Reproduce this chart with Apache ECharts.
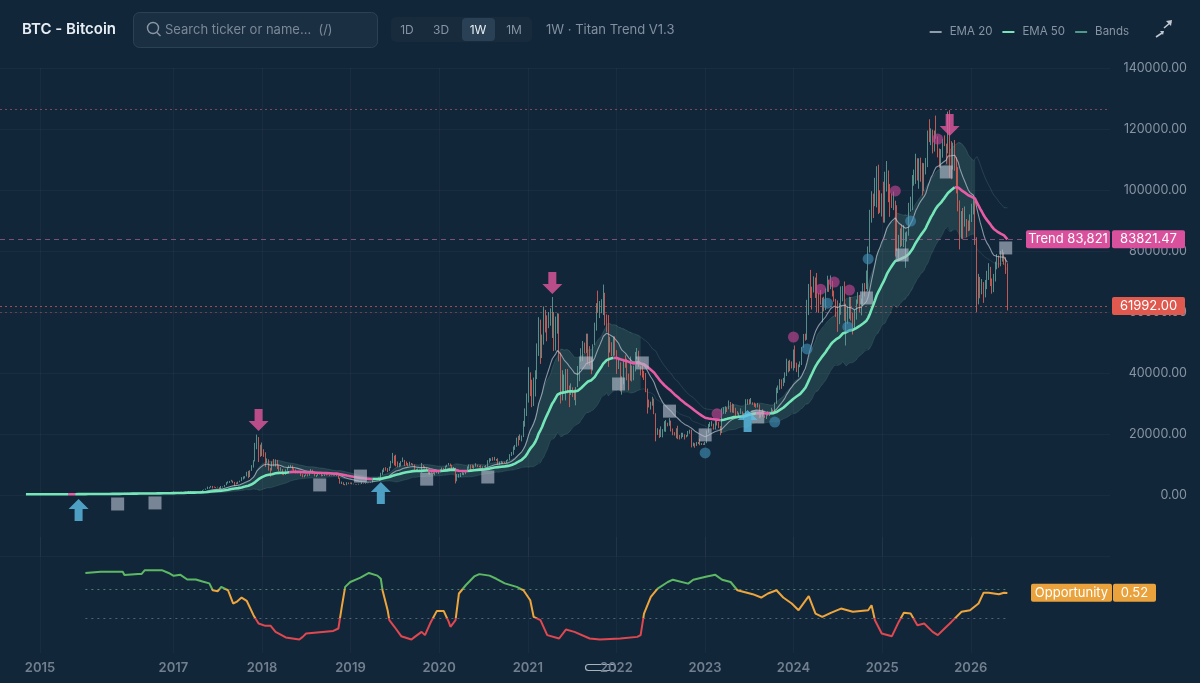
<!DOCTYPE html>
<html><head><meta charset="utf-8">
<script src="https://cdn.jsdelivr.net/npm/echarts@6/dist/echarts.min.js"></script>
<style>html,body{margin:0;padding:0;background:#12263a;}#c{width:1200px;height:683px;}</style>
</head><body><div id="c"></div><script>
// Weekly bars [close, high, low]; first week starts Monday 2015-05-04, open = previous close
const firstOpen = 236;
const w2015 = [[242,247,233],[237,245,233],[240,242,232],[230,241,226],[226,233,220],[234,236,222],[245,253,232],[257,260,240],[270,275,252],[292,313,265],[276,300,265],[290,296,270],[281,297,277],[265,286,258],[232,269,161],[228,236,198],[230,235,220],[240,243,225],[230,242,225],[231,233,226],[235,239,230],[239,242,235],[250,255,238],[270,272,249],[290,297,268],[375,420,289],[335,495,310],[325,345,300],[360,370,318],[375,380,352],[390,400,355],[460,470,388],[440,465,410],[420,455,415],[430,438,415]];
const w2016 = [[448,462,425],[380,455,360],[402,410,365],[376,398,362],[373,380,365],[405,410,370],[438,445,405],[433,440,415],[412,438,405],[415,420,405],[412,420,405],[418,420,410],[420,424,412],[424,428,418],[458,462,422],[462,468,448],[458,468,443],[460,465,443],[444,460,436],[454,457,436],[530,535,450],[575,585,525],[685,700,570],[665,780,620],[665,695,550],[660,705,640],[650,665,610],[665,680,650],[655,675,650],[605,660,600],[590,615,480],[570,595,565],[580,585,568],[575,585,570],[608,615,568],[610,625,605],[608,612,605],[602,608,590],[610,615,598],[617,620,608],[640,645,613],[657,660,630],[715,740,652],[705,740,680],[740,745,700],[730,750,695],[745,752,725],[770,778,735],[778,784,755],[790,795,768],[900,920,785],[1000,1005,890]];
const w2017 = [[900,1150,780],[820,910,760],[920,935,810],[990,995,880],[1010,1040,960],[1000,1090,940],[1050,1060,990],[1190,1200,1040],[1270,1290,1180],[1240,1330,970],[960,1260,930],[1040,1060,890],[1100,1120,1000],[1180,1200,1080],[1200,1210,1150],[1250,1260,1190],[1350,1360,1240],[1560,1640,1340],[1730,1800,1550],[2050,2100,1710],[2200,2760,1950],[2520,2580,2100],[2950,2980,2450],[2600,2980,2150],[2550,2770,2400],[2500,2580,2300],[2500,2700,2480],[1930,2550,1840],[2750,2950,1950],[2760,2800,2450],[3250,3300,2650],[4070,4200,3200],[4090,4480,3800],[4580,4600,3980],[4600,4960,4400],[4300,4700,3900],[3700,4250,2980],[3600,4100,3500],[4350,4400,3800],[4600,4700,4200],[5650,5860,4550],[6000,6100,5100],[6150,6200,5400],[7400,7600,6100],[5950,7900,5500],[8000,8100,5900],[9700,9800,7900],[11000,11400,9000],[15000,17100,11000],[19000,19800,15000],[14000,19000,10800],[13800,16500,12500]];
const w2018 = [[14000,17200,12800],[13600,15000,12500],[11500,14000,9200],[11500,12000,10500],[8200,11700,8000],[8100,8900,6000],[10400,11000,8000],[9600,11800,9400],[11400,11700,9300],[9600,11500,8500],[8200,9900,7800],[8500,9100,7900],[7000,8500,6600],[6900,7500,6500],[8000,8400,6600],[8900,9000,8000],[9300,9700,8800],[9700,9900,9100],[8700,9600,8300],[8200,8800,7900],[7400,8400,7100],[7600,7800,7100],[7500,7800,7300],[6500,7500,6200],[6100,6850,5800],[6400,6550,5800],[6700,6800,6300],[6400,6800,6100],[7400,7600,6300],[8200,8500,7400],[7000,8300,6900],[6300,7200,6100],[6400,6600,5900],[6700,7000,6300],[7200,7300,6700],[6200,7400,6100],[6500,6600,6200],[6700,6800,6200],[6600,6800,6400],[6550,6700,6500],[6400,6600,6200],[6450,6650,6400],[6350,6500,6300],[6400,6500,6300],[6300,6550,6200],[5500,6400,5300],[4000,5600,3700],[4100,4400,3600],[3500,4200,3300],[3250,3600,3200],[3950,4200,3200],[3750,4100,3550],[4000,4050,3700]];
const w2019 = [[3550,4100,3500],[3600,3700,3500],[3550,3620,3450],[3450,3550,3370],[3620,3700,3400],[3620,3680,3550],[3870,4200,3600],[3800,3900,3700],[3900,3950,3700],[4000,4030,3850],[3980,4050,3900],[4100,4150,3950],[5100,5300,4100],[5100,5450,4950],[5350,5450,5050],[5300,5600,5100],[5800,5850,5250],[7100,7300,5700],[8100,8300,6600],[8700,8900,7500],[8600,9100,8000],[8000,8800,7500],[8800,9300,7900],[10700,11200,8800],[11800,13800,10400],[11300,12900,9700],[10300,13200,9400],[9500,11000,9100],[9500,10500,9100],[10800,11100,9400],[11500,12300,10800],[10300,11500,9500],[10100,11000,9800],[9600,10500,9400],[10500,10900,9600],[10300,10500,9900],[10000,10300,9700],[8000,10000,7800],[8300,8500,7700],[8300,8700,7900],[8200,8400,7900],[9500,10500,7300],[9200,9800,8900],[8800,9400,8700],[8500,8900,8000],[7300,8500,6800],[7400,7800,6600],[7500,7800,7300],[7100,7500,6900],[7150,7500,6450],[7400,7600,7100],[7400,7600,6900]];
const w2020 = [[8100,8400,7700],[8900,9000,8000],[8300,8800,8200],[9400,9600,8300],[9900,9950,9150],[10300,10500,9700],[9700,10300,9400],[8700,9900,8400],[8900,9200,8300],[5400,8000,3800],[5800,6900,4500],[5900,6900,5700],[6800,7200,5900],[6900,7500,6600],[7100,7300,6500],[7500,7800,6800],[8800,9400,7600],[9500,10000,8600],[9400,9900,8100],[9200,9900,8800],[9500,9700,8600],[9700,10400,9300],[9400,9900,9200],[9300,9600,9100],[9100,9800,8900],[9300,9400,8900],[9200,9450,9150],[9700,9800,9050],[11000,11400,9200],[11600,12100,10600],[11800,12000,11100],[11700,12400,11200],[11700,12500,11300],[11700,11800,11200],[10300,12050,9900],[10900,10950,9900],[10900,11200,10200],[10800,10900,10200],[10600,10900,10400],[11300,11500,10500],[11500,11700,11200],[13000,13400,11400],[13800,14100,12800],[15400,15900,13200],[16000,16400,14800],[18400,18800,15800],[18200,19400,16200],[19100,19900,18000],[19200,19500,17600],[23800,24300,19000],[26400,28400,22400],[32200,33300,25900]];
const w2021 = [[38200,41900,30300],[36000,40200,32400],[32100,37800,28800],[34300,38500,29200],[39300,40900,32300],[48600,49700,38000],[57500,58300,45600],[46200,57500,43000],[51000,52600,44900],[59000,61800,49300],[57400,60700,53300],[55900,58900,50400],[57100,60000,54700],[59800,61200,55500],[60000,64900,51500],[50100,57000,47200],[56600,58500,47400],[58200,59600,52900],[46700,59500,43800],[34700,45800,30000],[35700,40900,31000],[35800,39500,33400],[39000,41300,31000],[35600,41300,33300],[34700,35900,28800],[35300,36600,32800],[34000,35100,32100],[31800,34600,31100],[35400,35400,29400],[39800,42300,36400],[44600,45300,37300],[47000,48100,43700],[49300,50500,43900],[48900,50000,46400],[51700,52900,46600],[48300,52900,42800],[43000,48800,42500],[42200,45000,39600],[49200,49400,40800],[54700,56500,49100],[61500,62900,53900],[61000,67000,59700],[61300,63600,58000],[63200,64200,59600],[65500,69000,59000],[58700,66300,55600],[57300,59200,53500],[49400,59000,42000],[50100,51900,46700],[46700,49500,45500],[50800,51900,45600],[47300,52000,45700]];
const w2022 = [[41800,47500,39700],[43100,44400,41300],[36300,43500,34000],[37900,38900,32900],[42400,44500,36300],[42200,45800,41700],[38400,44700,37600],[37700,39800,34300],[38800,45400,37500],[37800,42500,37200],[41300,42400,37600],[44500,46900,40500],[46400,48200,44500],[42200,47300,42000],[39700,41500,39200],[39500,42900,38500],[38500,40700,37700],[34100,40000,33700],[31300,34900,26700],[29400,30700,28700],[29400,30600,28000],[29900,32200,29300],[26600,31600,26500],[20500,26800,17600],[21000,21900,19700],[19300,21500,18700],[20800,22500,19000],[20800,21600,18900],[22600,24200,21000],[23300,24600,20700],[23200,23700,22500],[24400,25200,22700],[21500,24400,20800],[20000,21800,19600],[19800,20600,19500],[21800,21900,18600],[19400,22700,18300],[18800,19700,18200],[19300,20400,18500],[19400,20400,19000],[19200,19900,18200],[19600,19700,18900],[20600,21000,19200],[21300,21400,20100],[16300,21400,15600],[16700,17200,16000],[16500,17000,15500],[17100,17400,16100],[17100,17400,16700],[16800,18400,16300],[16800,17000,16400],[16500,16900,16400]];
const w2023 = [[17100,17400,16400],[20900,21200,17000],[22700,23300,20400],[23000,23900,22300],[23300,24200,22500],[21800,23400,21400],[24600,25200,21500],[23200,25200,22800],[22400,23900,21900],[20600,22600,19600],[26900,28400,20300],[27500,28800,26600],[28400,29100,26600],[28300,28800,27200],[30300,31000,28100],[27600,30500,27100],[29200,30000,27000],[28000,29800,26900],[26800,28600,25800],[26700,27500,26400],[26800,27000,25900],[27100,28400,26600],[25800,27400,25400],[26300,26800,24800],[30500,31400,26200],[30600,31400,29600],[30300,31400,29700],[30300,31800,29900],[30100,30400,29600],[29200,30300,28900],[29000,30000,28600],[29400,30200,28700],[26100,29700,25200],[26000,26800,25400],[25900,28100,25700],[25800,26100,25300],[26500,27000,24900],[26500,27400,26000],[27000,27100,25900],[27900,28600,27200],[26900,28000,26500],[29900,30300,26900],[34500,35200,29900],[35000,35900,33400],[37100,38000,34500],[36600,37900,34800],[37800,38400,35700],[39500,40200,36800],[43800,44700,39000],[41400,44000,40200],[43700,44300,40600],[42100,43800,41500]];
const w2024 = [[43900,47700,40800],[42800,49000,41600],[41700,43400,40300],[42000,42800,38600],[43000,43800,41900],[48300,48500,42600],[52100,52800,48300],[51700,52900,50600],[63100,64000,50900],[68400,69200,59000],[68300,73800,64600],[67200,68200,60800],[71300,71700,66400],[69400,71300,64600],[65700,72800,60000],[64900,66300,59700],[63100,67200,62400],[64000,64700,56600],[61500,65000,60200],[67000,67700,60600],[69000,71900,66600],[67500,70600,66600],[69700,72000,67600],[66200,70200,65100],[64300,67000,63400],[60900,62500,58400],[58200,63800,53500],[60800,62900,56000],[68200,68400,59100],[68200,68500,63500],[58100,70000,57100],[58700,62700,49000],[58900,61800,56100],[64200,65000,57800],[57300,64900,57200],[54800,59800,52600],[60000,60700,54600],[63300,64100,57500],[65600,66500,62700],[62100,65000,59800],[62800,64400,58900],[69000,69400,62000],[67900,69500,65100],[68700,73600,67500],[80500,81500,66800],[90600,93500,79500],[98000,99600,89300],[97300,98800,90800],[101200,104000,94700],[104500,107800,94300],[95200,108300,92100],[93700,99900,92500],[98300,98900,91300]];
const w2025 = [[94500,102700,89300],[101300,106000,89300],[104700,109500,99500],[97700,106400,96000],[96500,102000,91200],[96100,98800,94100],[96300,99500,93400],[94300,96500,78200],[80700,95000,80000],[82600,85300,76600],[86100,87400,81200],[82400,88700,81600],[83700,88500,81300],[83700,86100,74500],[85100,86400,83100],[94000,95800,85000],[94300,97800,92900],[104200,104900,93400],[106500,106700,101400],[109000,111900,102000],[104600,110400,103100],[105700,110400,100400],[105600,110600,102700],[100900,108900,98200],[108400,108800,99600],[109200,110500,105100],[119100,119500,107500],[117300,123200,115700],[119400,120200,114700],[114200,119800,112000],[119300,119500,112600],[117500,124400,116800],[113500,117600,110700],[108300,113600,107300],[111100,113400,107300],[115300,116700,110600],[115200,117900,114400],[112200,113400,108600],[123500,125700,112000],[115000,126200,104000],[108600,116000,103500],[114500,115500,106700],[110000,116400,106300],[104700,110800,98900],[94500,107500,93000],[86800,96600,80500],[90400,93100,84000],[90000,94100,83800],[90300,94600,88000],[88000,90500,84500],[87500,90000,86500],[91000,92000,86700]];
const w2026 = [[93000,95500,89500],[95500,97800,92000],[84000,96500,82000],[66000,84500,60000],[70000,72500,62500],[67500,71500,64500],[69000,70800,65800],[65500,69800,63000],[68500,70500,64800],[71500,73500,67500],[74000,76000,70500],[70000,74800,68500],[67500,71000,66000],[71000,72500,66500],[75000,76500,70000],[77500,79000,74000],[76000,78500,74500],[78500,80000,75000],[79000,80500,76500],[77000,79500,75500],[75500,78000,72500],[61992,76000,60500]];

const trendDownWeeks = [[25,29],[155,204],[237,244],[253,260],[346,409],[430,438],[547,578]];
// Week ranges where the band has no fill (outline only)
const bandHollowWeeks = [[363,408],[560,578]];

// Signals: [week index, price level]
const sellArrows = [[137,21000],[310,65900],[544,117700]];
const buyArrows = [[31,-1300],[209,4300],[425,27900]];
const exitSquares = [[54,-2950],[76,-2600],[173,3300],[197,6200],[236,5200],[272,5900],[330,43300],[349,36400],[363,43300],[379,27500],[400,19700],[431,25600],[495,64600],[516,78700],[542,105900],[577,81000]];
const pinkDots = [[407,26600],[452,51800],[468,67500],[476,69800],[485,67200],[512,99700],[537,116700]];
const blueDots = [[400,13800],[441,23900],[460,47900],[472,62900],[484,55100],[496,77400],[521,89800]];

// Opportunity oscillator: [week index] and value
const oscWeek = [35,44,57,58,66,68,70,80,84,87,91,95,100,104,108,110,113,115,119,122,124,127,130,134,137,141,144,147,153,161,163,165,181,184,186,188,191,197,202,207,209,210,213,214,217,221,227,229,233,235,238,242,246,249,250,253,255,259,264,267,273,277,282,289,293,297,299,303,307,314,318,323,332,338,350,360,362,364,368,372,378,381,390,393,401,406,410,415,419,428,433,437,442,446,451,455,461,465,469,474,480,487,496,498,500,504,510,514,517,521,525,529,534,537,541,545,551,556,561,564,567,573,576,578];
const oscValue = [0.69,0.70,0.70,0.673,0.68,0.68,0.714,0.714,0.69,0.665,0.674,0.634,0.634,0.616,0.60,0.541,0.533,0.57,0.541,0.427,0.44,0.478,0.45,0.326,0.254,0.234,0.236,0.182,0.134,0.116,0.139,0.168,0.19,0.211,0.397,0.57,0.612,0.65,0.69,0.667,0.64,0.541,0.369,0.283,0.226,0.145,0.116,0.139,0.182,0.154,0.254,0.363,0.363,0.268,0.226,0.283,0.513,0.584,0.66,0.68,0.667,0.64,0.60,0.57,0.541,0.455,0.311,0.283,0.154,0.125,0.202,0.182,0.125,0.116,0.125,0.139,0.154,0.34,0.483,0.555,0.612,0.632,0.598,0.632,0.66,0.674,0.632,0.612,0.541,0.507,0.478,0.513,0.541,0.478,0.427,0.369,0.49,0.34,0.311,0.346,0.383,0.355,0.369,0.412,0.283,0.168,0.145,0.268,0.346,0.34,0.24,0.254,0.182,0.154,0.211,0.268,0.355,0.369,0.427,0.52,0.52,0.507,0.52,0.518];
const oscThresholds = [0.55, 0.30];

// Reference levels and labels
const athLevel = 126600;
const trendLevel = 83821.47;
const lastClose = 61992.00;
const recentLow = 60000;
const opportunityNow = 0.52;
const yearTicks = ['2015-07-01','2017-01-01','2018-01-01','2019-01-01','2020-01-01','2021-01-01','2022-01-01','2023-01-01','2024-01-01','2025-01-01','2026-01-01'];
const axisRange = ['2015-01-17','2027-07-29'];
const priceTicks = {min:-20000, max:140000, interval:20000};

// ---------- build ----------
const START = Date.UTC(2015,4,4), WEEK = 7*86400000;
const weekDate = k => START + k*WEEK;
const weeks = [].concat(w2015,w2016,w2017,w2018,w2019,w2020,w2021,w2022,w2023,w2024,w2025,w2026);
const N = weeks.length;
const ohlc = weeks.map((w,k)=>{
  const o = k===0 ? firstOpen : weeks[k-1][0];
  const c = w[0];
  return {o, c, h: Math.max(w[1],o,c), l: Math.min(w[2],o,c)};
});
const closes = ohlc.map(b=>b.c);
function ema(vals, n){ const a=2/(n+1); let e=vals[0]; return vals.map((v,i)=> (e = i===0 ? v : v*a + e*(1-a))); }
const ema20 = ema(closes,20), ema50 = ema(closes,50);
const tr = ohlc.map((b,k)=> k===0 ? b.h-b.l : Math.max(b.h-b.l, Math.abs(b.h-ohlc[k-1].c), Math.abs(b.l-ohlc[k-1].c)));
const atr = ema(tr,20);
const BAND = 1.45;
const upper = ema50.map((e,k)=>e+BAND*atr[k]);
const lower = ema50.map((e,k)=>e-BAND*atr[k]);
const inRanges = (k,rs)=>rs.some(r=>k>=r[0]&&k<=r[1]);
const isDown = k => inRanges(k,trendDownWeeks);

// contiguous filled band segments (complement of the hollow ranges)
const bandSegments = [];
{ let s = null; for(let k=0;k<N;k++){ const f=!inRanges(k,bandHollowWeeks); if(f && s===null) s=k; if((!f || k===N-1) && s!==null){ bandSegments.push([s, f?k:k-1]); s=null; } } }

const candleData = ohlc.map((b,k)=>[weekDate(k), b.o, b.c, b.l, b.h]);
const ema20Data = ema20.map((v,k)=>[weekDate(k), v]);
const emaUp = ema50.map((v,k)=>[weekDate(k), (!isDown(k) || (k>0 && !isDown(k-1)) || (k<N-1 && !isDown(k+1))) ? v : null]);
const emaDn = ema50.map((v,k)=>[weekDate(k), isDown(k) ? v : null]);
const upperData = upper.map((v,k)=>[weekDate(k), v]);
const lowerData = lower.map((v,k)=>[weekDate(k), v]);
const pts = arr => arr.map(p=>[weekDate(p[0]), p[1]]);
const oscData = oscWeek.map((k,i)=>[weekDate(k), oscValue[i]]);
const tickVals = yearTicks.map(d=>new Date(d).getTime());
const xMin = new Date(axisRange[0]).getTime(), xMax = new Date(axisRange[1]).getTime();

const FONT = 'Inter, "Noto Sans", sans-serif';
const BG = '#12263a';
const grid = 'rgba(255,255,255,0.035)';

const xBase = {
  type:'value', min:xMin, max:xMax, axisLine:{show:false},
  axisTick:{show:false, customValues:tickVals},
  splitLine:{show:true, lineStyle:{color:grid}}
};
const downArrow = 'path://M3,0 L7,0 L7,6 L10,6 L5,11 L0,6 L3,6 Z';
const upArrow = 'path://M5,0 L10,5 L7,5 L7,11 L3,11 L3,5 L0,5 Z';

function renderBand(params, api){
  const s = api.value(2), e = api.value(3);
  const top = [], bot = [];
  for(let k=s;k<=e;k++){ top.push(api.coord([weekDate(k), upper[k]])); bot.push(api.coord([weekDate(k), lower[k]])); }
  return {type:'polygon', shape:{points: top.concat(bot.reverse())}, style:{fill:'rgba(115,190,170,0.16)'}};
}

const series = [
  {name:'bandFill', type:'custom', renderItem:renderBand, data:bandSegments.map(s=>[weekDate(s[0]), lower[s[0]], s[0], s[1]]), encode:{x:0, y:1}, silent:true, z:1},
  {name:'Bands', type:'line', data:upperData, symbol:'none', lineStyle:{color:'rgba(120,190,170,0.18)', width:1}, silent:true, z:2},
  {name:'bandLower', type:'line', data:lowerData, symbol:'none', lineStyle:{color:'rgba(120,190,170,0.14)', width:1}, silent:true, z:2},
  {name:'BTC', type:'candlestick', data:candleData, barMaxWidth:2,
    itemStyle:{color:'rgba(100,160,152,0.85)', color0:'rgba(212,94,88,0.9)', borderColor:'rgba(100,160,152,0.85)', borderColor0:'rgba(212,94,88,0.9)', borderWidth:1},
    z:3,
    markLine:{symbol:'none', silent:true, animation:false, label:{show:false}, data:[
      {yAxis:athLevel, lineStyle:{color:'rgba(214,96,120,0.55)', type:[2,3], width:1}},
      {yAxis:trendLevel, lineStyle:{color:'rgba(170,95,150,0.7)', type:[5,4], width:1}},
      {yAxis:lastClose, lineStyle:{color:'rgba(224,96,88,0.7)', type:[2,3], width:1}},
      {yAxis:recentLow, lineStyle:{color:'rgba(224,96,110,0.4)', type:[2,3], width:1}}
    ]}},
  {name:'EMA 20', type:'line', data:ema20Data, symbol:'none', lineStyle:{color:'rgba(200,210,220,0.65)', width:1.1}, z:4, silent:true},
  {name:'EMA 50', type:'line', data:emaUp, symbol:'none', lineStyle:{color:'#74e6b8', width:2.6}, z:5, silent:true},
  {name:'EMA 50 down', type:'line', data:emaDn, symbol:'none', lineStyle:{color:'#e85ca6', width:2.6}, z:6, silent:true},
  {name:'exit', type:'scatter', data:pts(exitSquares), symbol:'rect', symbolSize:13, itemStyle:{color:'rgba(178,188,202,0.8)'}, z:7, silent:true},
  {name:'pinkDot', type:'scatter', data:pts(pinkDots), symbol:'circle', symbolSize:11, itemStyle:{color:'rgba(200,70,150,0.78)'}, z:7, silent:true},
  {name:'blueDot', type:'scatter', data:pts(blueDots), symbol:'circle', symbolSize:11, itemStyle:{color:'rgba(66,146,186,0.75)'}, z:7, silent:true},
  {name:'sell', type:'scatter', data:pts(sellArrows), symbol:downArrow, symbolSize:[20,22], symbolOffset:[0,-11], itemStyle:{color:'#e2579d'}, z:8, silent:true},
  {name:'buy', type:'scatter', data:pts(buyArrows), symbol:upArrow, symbolSize:[20,22], symbolOffset:[0,11], itemStyle:{color:'#5cbfe6'}, z:8, silent:true},
  {name:'Opportunity', type:'line', xAxisIndex:1, yAxisIndex:1, data:oscData, symbol:'none', lineStyle:{width:2}, z:5, silent:true,
    markLine:{symbol:'none', silent:true, animation:false, label:{show:false}, data:[
      [{coord:[oscData[0][0], oscThresholds[0]], lineStyle:{color:'rgba(110,190,150,0.6)', type:[2,4], width:1}}, {coord:[oscData[oscData.length-1][0], oscThresholds[0]]}],
      [{coord:[oscData[0][0], oscThresholds[1]], lineStyle:{color:'rgba(150,160,172,0.5)', type:[2,4], width:1}}, {coord:[oscData[oscData.length-1][0], oscThresholds[1]]}]
    ]}}
];
const oscIndex = series.length-1;
series.forEach(s=>{ if(s.xAxisIndex===undefined){ s.xAxisIndex=0; s.yAxisIndex=0; } });

const chart = echarts.init(document.getElementById('c'), null, {renderer:'canvas'});
chart.setOption({
  backgroundColor: BG,
  animation:false,
  textStyle:{fontFamily:FONT},
  grid:[{left:0, right:90, top:68, height:488}, {left:0, right:90, top:537, height:116}],
  xAxis:[
    Object.assign({}, xBase, {gridIndex:0, axisLabel:{show:false, customValues:tickVals}}),
    Object.assign({}, xBase, {gridIndex:1, axisLabel:{show:true, customValues:tickVals, color:'#717f8f', fontSize:13, fontWeight:600, fontFamily:FONT, margin:9, formatter:v=>String(new Date(v).getUTCFullYear())}})
  ],
  yAxis:[
    {type:'value', gridIndex:0, position:'right', min:priceTicks.min, max:priceTicks.max, interval:priceTicks.interval,
      axisLine:{show:false}, axisTick:{show:false}, splitLine:{show:true, lineStyle:{color:grid}},
      axisLabel:{align:'right', margin:77, color:'#8694a3', fontSize:12.5, fontFamily:FONT, formatter:v=> v<0 ? '' : v.toFixed(2)}},
    {type:'value', gridIndex:1, min:0, max:1, show:false}
  ],
  legend:{right:66, top:21, icon:'rect', itemWidth:12, itemHeight:2, itemGap:10, selectedMode:false,
    textStyle:{color:'#8794a3', fontSize:11.5, fontFamily:FONT, padding:[0,0,0,3]},
    data:[{name:'EMA 20', itemStyle:{color:'#8f9cab'}}, {name:'EMA 50', itemStyle:{color:'#79e3b6'}}, {name:'Bands', itemStyle:{color:'#4f9a89'}}]},
  visualMap:[{show:false, type:'piecewise', seriesIndex:oscIndex, dimension:1,
    pieces:[{lt:oscThresholds[1], color:'#e0474f'},{gte:oscThresholds[1], lt:oscThresholds[0], color:'#eea53b'},{gte:oscThresholds[0], color:'#5cb862'}]}],
  series
});

// ---------- header and value tags ----------
const yTrend = chart.convertToPixel({yAxisIndex:0}, trendLevel);
const yLast = chart.convertToPixel({yAxisIndex:0}, lastClose);
const yOpp = chart.convertToPixel({yAxisIndex:1}, opportunityNow);
const gridRight = 1200-90;
function tag(x, y, w, fill, text){
  return [
    {type:'rect', shape:{x:x, y:y-9, width:w, height:18, r:2}, style:{fill}, z:100},
    {type:'text', x:x+w/2, y:y, style:{text, fill:'#ffffff', font:'13px '+FONT, textAlign:'center', textVerticalAlign:'middle'}, z:101}
  ];
}
const g = [
  {type:'text', x:22, y:29, style:{text:'BTC - Bitcoin', fill:'#e8eef4', font:'600 15px '+FONT, textVerticalAlign:'middle'}},
  {type:'rect', shape:{x:133.5, y:12.5, width:244, height:35, r:6}, style:{fill:'#1a2f42', stroke:'#2b4154', lineWidth:1}},
  {type:'circle', shape:{cx:153, cy:28, r:5.5}, style:{fill:'none', stroke:'#8a97a6', lineWidth:1.4}},
  {type:'line', shape:{x1:157, y1:32.5, x2:160.5, y2:36}, style:{stroke:'#8a97a6', lineWidth:1.4}},
  {type:'text', x:165, y:30, style:{text:'Search ticker or name…  (/)', fill:'#7b8898', font:'13px '+FONT, textVerticalAlign:'middle'}},
  {type:'rect', shape:{x:391, y:17, width:141, height:25, r:5}, style:{fill:'#172b3d'}},
  {type:'rect', shape:{x:462, y:18, width:33, height:23, r:4}, style:{fill:'#2a4155'}},
  {type:'text', x:407, y:30, style:{text:'1D', fill:'#8794a3', font:'12px '+FONT, textAlign:'center', textVerticalAlign:'middle'}},
  {type:'text', x:441, y:30, style:{text:'3D', fill:'#8794a3', font:'12px '+FONT, textAlign:'center', textVerticalAlign:'middle'}},
  {type:'text', x:478, y:30, style:{text:'1W', fill:'#e8eef4', font:'12px '+FONT, textAlign:'center', textVerticalAlign:'middle'}},
  {type:'text', x:514, y:30, style:{text:'1M', fill:'#8794a3', font:'12px '+FONT, textAlign:'center', textVerticalAlign:'middle'}},
  {type:'text', x:546, y:30, style:{text:'1W · Titan Trend V1.3', fill:'#8290a0', font:'13px '+FONT, textVerticalAlign:'middle'}},
  {type:'line', shape:{x1:1156, y1:37, x2:1162, y2:33}, style:{stroke:'#c0c8d2', lineWidth:1.6}},
  {type:'polygon', shape:{points:[[1160,31],[1164,31],[1163,35]]}, style:{fill:'#c0c8d2'}},
  {type:'line', shape:{x1:1164, y1:28, x2:1171, y2:22}, style:{stroke:'#c0c8d2', lineWidth:1.6}},
  {type:'polygon', shape:{points:[[1166,21],[1172,20],[1171,26]]}, style:{fill:'#c0c8d2'}},
  {type:'rect', shape:{x:585.5, y:664.5, width:30, height:6, r:3}, style:{fill:'none', stroke:'#a9b3be', lineWidth:1.2}}
]
.concat(tag(1026, yTrend, 84, '#d9519c', 'Trend 83,821'))
.concat(tag(gridRight+2, yTrend, 73, '#d9519c', '83821.47'))
.concat(tag(gridRight+2, yLast, 73, '#e0594f', '61992.00'))
.concat(tag(1031, yOpp, 81, '#e9a23c', 'Opportunity'))
.concat(tag(gridRight+3, yOpp, 43, '#e9a23c', '0.52'));
chart.setOption({graphic:g});
</script></body></html>
